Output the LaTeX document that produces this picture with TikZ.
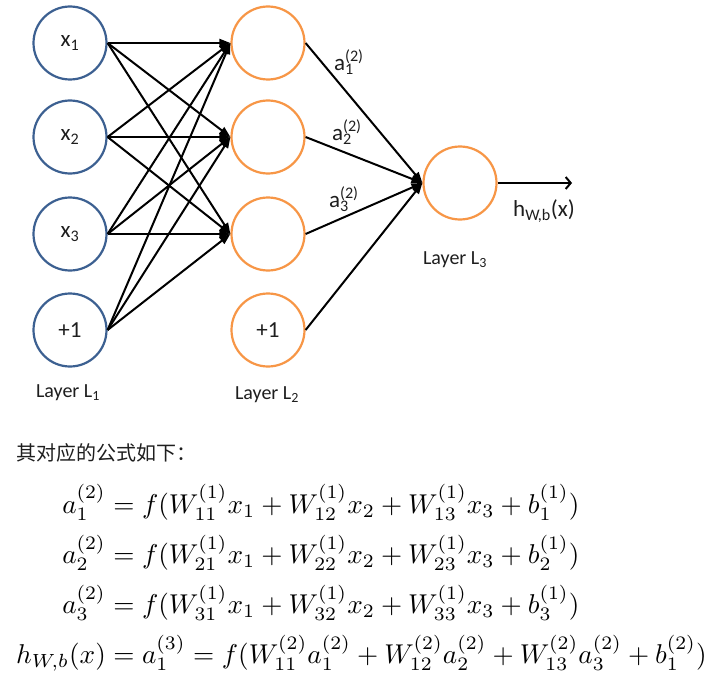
\documentclass[tikz,border=0pt]{standalone}
\usepackage[no-math]{fontspec}
\usepackage{amsmath}
\usepackage{graphicx}
\newfontfamily\carl{Carlito}
\newfontfamily\cjk{Noto Sans CJK SC}
\usetikzlibrary{arrows.meta}
\definecolor{nnblue}{RGB}{60,96,145}
\definecolor{nnorange}{RGB}{247,150,70}
\definecolor{txt}{RGB}{30,30,30}
\setlength{\jot}{3.4pt}
\tikzset{
  neuron/.style={circle, minimum size=73pt, inner sep=0pt, line width=2.2pt,
    font=\carl\fontsize{23}{27}\selectfont, text=txt},
  inl/.style={neuron, draw=nnblue},
  hid/.style={neuron, draw=nnorange},
  lbl/.style={font=\carl\fontsize{23}{27}\selectfont, text=txt, inner sep=0pt},
  layerlbl/.style={font=\carl\fontsize{20}{24}\selectfont, text=txt, inner sep=0pt},
  conn/.style={line width=2pt, -{Triangle[length=11pt,width=8pt]}},
}
\begin{document}
\begin{tikzpicture}[x=1pt,y=-1pt]
\useasboundingbox[fill=white] (0,0) rectangle (711,674);
% input layer
\node[inl] (x1) at (70,43) {x\textsubscript{1}};
\node[inl] (x2) at (70,137) {x\textsubscript{2}};
\node[inl] (x3) at (70,234) {x\textsubscript{3}};
\node[inl] (b1) at (70,330) {+1};
% hidden layer
\node[hid] (h1) at (268,43) {};
\node[hid] (h2) at (268,137) {};
\node[hid] (h3) at (268,234) {};
\node[hid] (b2) at (268,330) {+1};
% output
\node[hid] (o) at (460,183) {};
\coordinate (out) at (572,183);
% edges
\foreach \s in {x1,x2,x3,b1}{
  \foreach \t in {h1,h2,h3}{
    \draw[conn] (\s.east) -- (\t.west);
  }
}
\foreach \s in {h1,h2,h3,b2}{
  \draw[conn] (\s.east) -- (o.west);
}
\draw[line width=2pt, -{Straight Barb[length=5pt,width=12pt]}] (o.east) -- (out);
% labels
\node[lbl] (la1) at (344,62) {a\rlap{\textsuperscript{(2)}}\textsubscript{1}};
\node[lbl] (la2) at (342,132) {a\rlap{\textsuperscript{(2)}}\textsubscript{2}};
\node[lbl] (la3) at (339,199) {a\rlap{\textsuperscript{(2)}}\textsubscript{3}};
\node[lbl] (hl) at (544,211) {h\textsubscript{W,b}(x)};
\node[layerlbl] (L1) at (68,393) {Layer L\textsubscript{1}};
\node[layerlbl] (L2) at (267,395) {Layer L\textsubscript{2}};
\node[layerlbl] (L3) at (455,260) {Layer L\textsubscript{3}};
% text
\node[anchor=west, inner sep=0pt, font=\cjk\fontsize{20}{24}\selectfont, text=txt] (intro) at (16,453) {其对应的公式如下：};
\node[anchor=base west, inner sep=0pt] (eqs) at (16,513) {\scalebox{2.72}{$\begin{aligned}[t]
a_1^{(2)} &= f(W_{11}^{(1)}x_1 + W_{12}^{(1)}x_2 + W_{13}^{(1)}x_3 + b_1^{(1)})\\
a_2^{(2)} &= f(W_{21}^{(1)}x_1 + W_{22}^{(1)}x_2 + W_{23}^{(1)}x_3 + b_2^{(1)})\\
a_3^{(2)} &= f(W_{31}^{(1)}x_1 + W_{32}^{(1)}x_2 + W_{33}^{(1)}x_3 + b_3^{(1)})\\
h_{W,b}(x) &= a_1^{(3)} = f(W_{11}^{(2)}a_1^{(2)} + W_{12}^{(2)}a_2^{(2)} + W_{13}^{(2)}a_3^{(2)} + b_1^{(2)})
\end{aligned}$}};
\end{tikzpicture}
\end{document}
